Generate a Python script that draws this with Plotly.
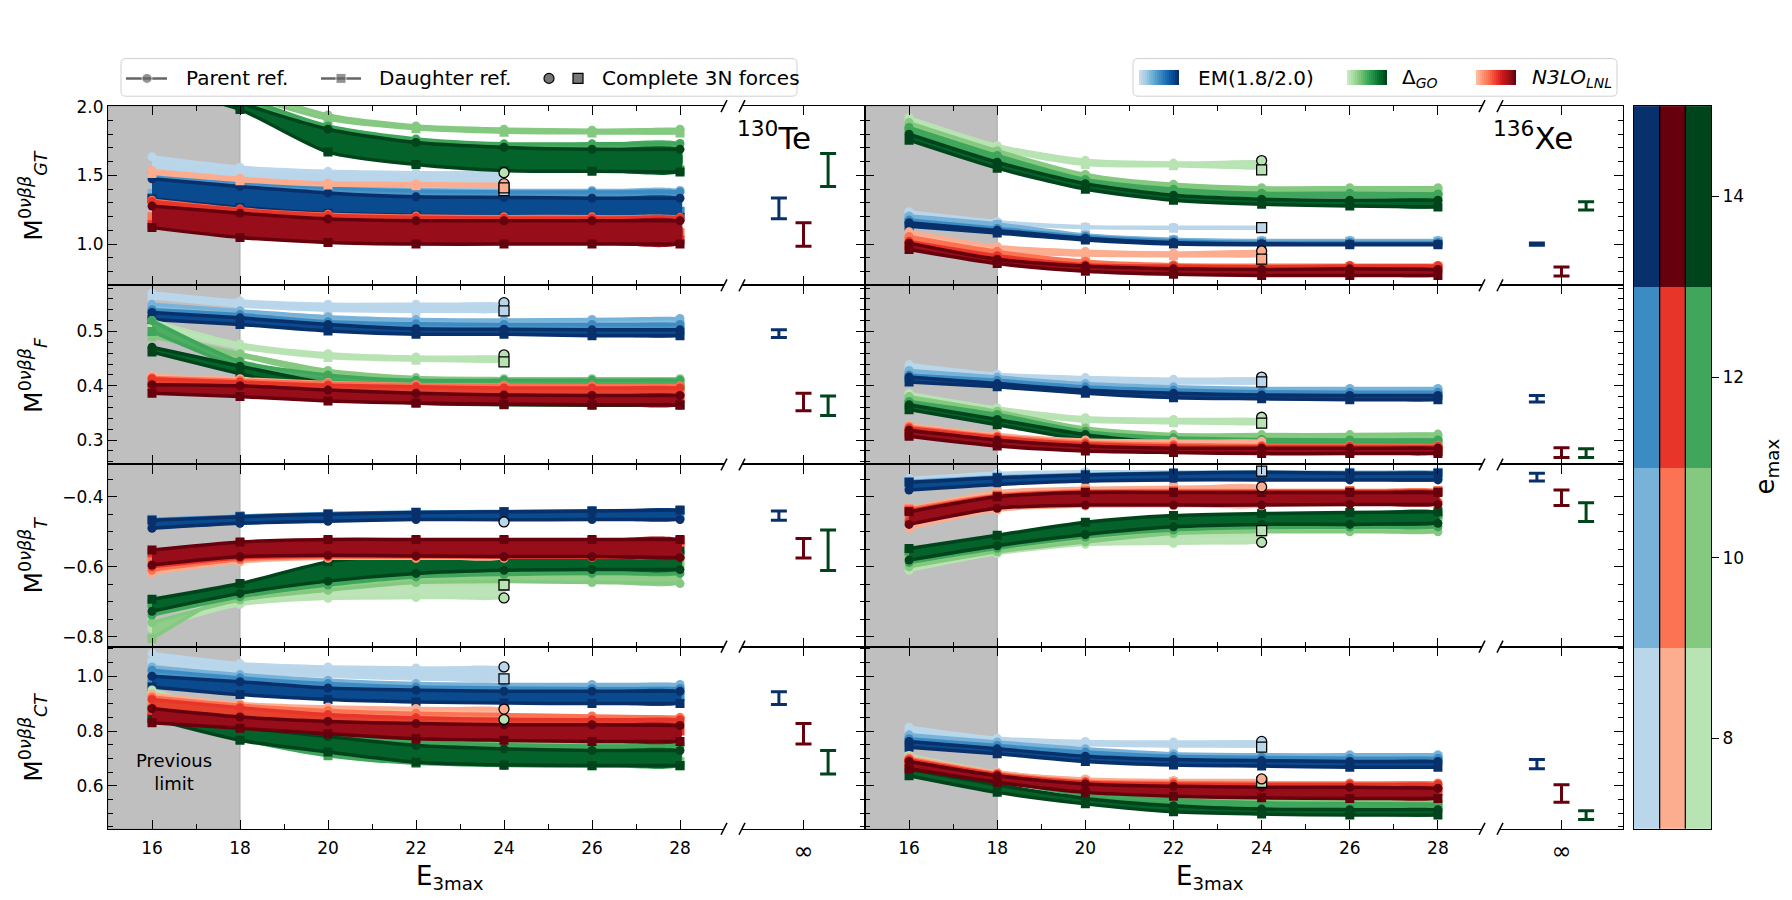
import plotly.graph_objects as go

W, H = 1792, 900

E3 = [16, 18, 20, 22, 24, 26, 28]
EMAX = [8, 10, 12, 14]

# ---- 130Te, GT ----  (each list: emax 8, 10, 12, 14; emax 8 stops at E3max = 24)
TE_GT_EM_P = [[1.637, 1.56, 1.53, 1.52, 1.517],
              [1.53, 1.465, 1.42, 1.397, 1.39, 1.39, 1.39],
              [1.52, 1.457, 1.41, 1.387, 1.38, 1.38, 1.38],
              [1.476, 1.42, 1.373, 1.344, 1.34, 1.334, 1.334]]
TE_GT_EM_D = [[1.50, 1.45, 1.42, 1.41, 1.40],
              [1.368, 1.292, 1.248, 1.228, 1.22, 1.225, 1.236],
              [1.34, 1.277, 1.236, 1.219, 1.212, 1.224, 1.24],
              [1.33, 1.267, 1.224, 1.21, 1.20, 1.195, 1.195]]
TE_GT_GO_P = [[2.6, 2.4, 2.3, 2.25, 2.2],
              [2.45, 2.15, 1.94, 1.86, 1.837, 1.83, 1.837],
              [2.35, 2.08, 1.86, 1.765, 1.73, 1.73, 1.733],
              [2.3, 2.03, 1.837, 1.74, 1.705, 1.69, 1.69]]
TE_GT_GO_D = [[2.55, 2.35, 2.25, 2.2, 2.15],
              [2.4, 2.1, 1.91, 1.84, 1.815, 1.81, 1.81],
              [2.2, 2.0, 1.68, 1.59, 1.55, 1.545, 1.54],
              [2.15, 1.98, 1.67, 1.58, 1.536, 1.53, 1.525]]
TE_GT_N3_P = [[1.536, 1.48, 1.445, 1.44, 1.435],
              [1.32, 1.255, 1.218, 1.204, 1.2, 1.2, 1.195],
              [1.31, 1.25, 1.21, 1.195, 1.19, 1.19, 1.19],
              [1.277, 1.224, 1.183, 1.17, 1.17, 1.17, 1.17]]
TE_GT_N3_D = [[1.515, 1.462, 1.43, 1.425, 1.42],
              [1.20, 1.13, 1.093, 1.082, 1.082, 1.077, 1.082],
              [1.14, 1.068, 1.032, 1.02, 1.02, 1.02, 1.03],
              [1.12, 1.048, 1.012, 1.0, 1.0, 1.0, 1.0]]
TE_GT_3N_P = [None, 1.52, 1.44]     # EM, dGO, N3LO
TE_GT_3N_D = [1.39, None, 1.41]
TE_GT_INF = [1.26, 1.54, 1.07]
TE_GT_INF_ERR = [0.075, 0.12, 0.085]

# ---- 136Xe, GT ----
XE_GT_EM_P = [[1.235, 1.163, 1.127, 1.123, 1.123],
              [1.204, 1.147, 1.067, 1.036, 1.026, 1.026, 1.026],
              [1.175, 1.115, 1.055, 1.024, 1.012, 1.012, 1.012],
              [1.156, 1.10, 1.043, 1.012, 1.002, 1.0, 1.0]]
XE_GT_EM_D = [[1.22, 1.15, 1.12, 1.115, 1.115],
              [1.19, 1.14, 1.06, 1.03, 1.02, 1.02, 1.02],
              [1.16, 1.10, 1.045, 1.015, 1.005, 1.005, 1.005],
              [1.13, 1.08, 1.03, 1.0, 0.995, 0.995, 0.995]]
XE_GT_GO_P = [[1.92, 1.717, 1.61, 1.59, 1.60],
              [1.885, 1.68, 1.507, 1.435, 1.41, 1.41, 1.41],
              [1.85, 1.645, 1.47, 1.40, 1.37, 1.37, 1.365],
              [1.80, 1.596, 1.44, 1.356, 1.327, 1.32, 1.32]]
XE_GT_GO_D = [[1.88, 1.69, 1.58, 1.57, 1.555],
              [1.85, 1.65, 1.48, 1.41, 1.39, 1.39, 1.385],
              [1.82, 1.62, 1.45, 1.38, 1.35, 1.345, 1.34],
              [1.757, 1.553, 1.40, 1.32, 1.29, 1.277, 1.27]]
XE_GT_N3_P = [[1.09, 0.983, 0.947, 0.935, 0.947],
              [1.055, 0.947, 0.875, 0.85, 0.846, 0.846, 0.846],
              [1.02, 0.916, 0.85, 0.84, 0.835, 0.84, 0.84],
              [1.007, 0.89, 0.84, 0.82, 0.815, 0.82, 0.815]]
XE_GT_N3_D = [[1.05, 0.95, 0.92, 0.915, 0.915],
              [1.03, 0.93, 0.86, 0.838, 0.835, 0.835, 0.835],
              [0.99, 0.90, 0.835, 0.825, 0.82, 0.82, 0.82],
              [0.96, 0.858, 0.803, 0.78, 0.772, 0.772, 0.772]]
XE_GT_3N_P = [None, 1.608, 0.95]
XE_GT_3N_D = [1.12, 1.54, 0.89]
XE_GT_INF = [1.0, 1.278, 0.80]
XE_GT_INF_ERR = [0.008, 0.03, 0.033]

# ---- 130Te, F ----
TE_F_EM_P = [[0.571, 0.556, 0.55, 0.55, 0.55],
             [0.55, 0.538, 0.527, 0.522, 0.521, 0.522, 0.524],
             [0.54, 0.531, 0.518, 0.514, 0.513, 0.513, 0.513],
             [0.535, 0.525, 0.513, 0.505, 0.504, 0.503, 0.503]]
TE_F_EM_D = [[0.562, 0.547, 0.539, 0.537, 0.537],
             [0.54, 0.53, 0.52, 0.515, 0.513, 0.513, 0.513],
             [0.53, 0.52, 0.51, 0.505, 0.503, 0.502, 0.502],
             [0.522, 0.513, 0.501, 0.495, 0.495, 0.492, 0.492]]
TE_F_GO_P = [[0.52, 0.477, 0.459, 0.453, 0.453],
             [0.495, 0.459, 0.428, 0.415, 0.413, 0.413, 0.413],
             [0.52, 0.445, 0.42, 0.41, 0.41, 0.41, 0.41],
             [0.471, 0.436, 0.404, 0.388, 0.384, 0.383, 0.382]]
TE_F_GO_D = [[0.505, 0.47, 0.452, 0.447, 0.445],
             [0.49, 0.455, 0.42, 0.408, 0.405, 0.405, 0.405],
             [0.50, 0.435, 0.41, 0.40, 0.398, 0.397, 0.397],
             [0.462, 0.422, 0.386, 0.368, 0.365, 0.364, 0.364]]
TE_F_N3_P = [[0.419, 0.413, 0.406, 0.402, 0.401],
             [0.415, 0.41, 0.405, 0.402, 0.401, 0.40, 0.40],
             [0.413, 0.407, 0.401, 0.398, 0.396, 0.396, 0.396],
             [0.402, 0.40, 0.392, 0.386, 0.383, 0.382, 0.382]]
TE_F_N3_D = [[0.41, 0.405, 0.40, 0.398, 0.397],
             [0.405, 0.40, 0.395, 0.392, 0.39, 0.39, 0.39],
             [0.40, 0.395, 0.385, 0.38, 0.378, 0.378, 0.378],
             [0.386, 0.38, 0.372, 0.368, 0.366, 0.365, 0.365]]
TE_F_3N_P = [0.553, 0.457, None]
TE_F_3N_D = [0.538, 0.444, None]
TE_F_INF = [0.496, 0.363, 0.37]
TE_F_INF_ERR = [0.007, 0.018, 0.016]

# ---- 136Xe, F ----
XE_F_EM_P = [[0.439, 0.421, 0.415, 0.412, 0.413],
             [0.428, 0.416, 0.404, 0.398, 0.395, 0.395, 0.395],
             [0.42, 0.41, 0.398, 0.392, 0.389, 0.388, 0.388],
             [0.416, 0.404, 0.392, 0.386, 0.383, 0.382, 0.382]]
XE_F_EM_D = [[0.43, 0.415, 0.408, 0.405, 0.405],
             [0.42, 0.41, 0.40, 0.393, 0.39, 0.39, 0.39],
             [0.415, 0.405, 0.392, 0.386, 0.383, 0.382, 0.382],
             [0.407, 0.398, 0.386, 0.378, 0.376, 0.374, 0.374]]
XE_F_GO_P = [[0.386, 0.359, 0.341, 0.338, 0.338],
             [0.38, 0.353, 0.322, 0.31, 0.31, 0.31, 0.311],
             [0.371, 0.347, 0.316, 0.304, 0.301, 0.30, 0.30],
             [0.365, 0.338, 0.31, 0.295, 0.289, 0.289, 0.289]]
XE_F_GO_D = [[0.38, 0.352, 0.335, 0.332, 0.33],
             [0.375, 0.348, 0.317, 0.305, 0.303, 0.303, 0.303],
             [0.365, 0.34, 0.31, 0.298, 0.295, 0.294, 0.294],
             [0.356, 0.328, 0.30, 0.286, 0.28, 0.28, 0.279]]
XE_F_N3_P = [[0.328, 0.31, 0.30, 0.298, 0.298],
             [0.325, 0.307, 0.296, 0.292, 0.29, 0.29, 0.29],
             [0.322, 0.305, 0.293, 0.289, 0.288, 0.288, 0.288],
             [0.318, 0.30, 0.289, 0.285, 0.285, 0.285, 0.285]]
XE_F_N3_D = [[0.32, 0.30, 0.293, 0.29, 0.29],
             [0.315, 0.297, 0.288, 0.284, 0.283, 0.283, 0.283],
             [0.312, 0.294, 0.284, 0.281, 0.28, 0.28, 0.28],
             [0.307, 0.289, 0.28, 0.277, 0.275, 0.275, 0.275]]
XE_F_3N_P = [0.416, 0.342, None]
XE_F_3N_D = [0.407, 0.331, None]
XE_F_INF = [0.376, 0.276, 0.277]
XE_F_INF_ERR = [0.006, 0.008, 0.009]

# ---- 130Te, T ----
TE_T_EM_P = [[-0.478, -0.465, -0.46, -0.457, -0.456],
             [-0.485, -0.472, -0.466, -0.462, -0.461, -0.46, -0.46],
             [-0.488, -0.475, -0.468, -0.463, -0.463, -0.462, -0.462],
             [-0.49, -0.476, -0.47, -0.465, -0.466, -0.465, -0.465]]
TE_T_EM_D = [[-0.465, -0.455, -0.448, -0.444, -0.442],
             [-0.464, -0.455, -0.448, -0.444, -0.442, -0.44, -0.44],
             [-0.466, -0.456, -0.449, -0.445, -0.443, -0.441, -0.44],
             [-0.467, -0.457, -0.45, -0.445, -0.443, -0.441, -0.438]]
TE_T_GO_P = [[-0.776, -0.708, -0.69, -0.688, -0.688],
             [-0.759, -0.695, -0.667, -0.645, -0.642, -0.645, -0.648],
             [-0.738, -0.686, -0.652, -0.629, -0.622, -0.619, -0.619],
             [-0.727, -0.676, -0.641, -0.619, -0.61, -0.608, -0.608]]
TE_T_GO_D = [[-0.76, -0.69, -0.66, -0.65, -0.648],
             [-0.805, -0.665, -0.62, -0.60, -0.59, -0.59, -0.59],
             [-0.705, -0.655, -0.60, -0.575, -0.568, -0.566, -0.566],
             [-0.693, -0.648, -0.586, -0.562, -0.552, -0.552, -0.552]]
TE_T_N3_P = [[-0.619, -0.586, -0.576, -0.576, -0.576],
             [-0.61, -0.58, -0.573, -0.573, -0.573, -0.573, -0.573],
             [-0.60, -0.575, -0.57, -0.57, -0.572, -0.572, -0.573],
             [-0.595, -0.571, -0.567, -0.569, -0.571, -0.571, -0.574]]
TE_T_N3_D = [[-0.59, -0.555, -0.545, -0.54, -0.54],
             [-0.575, -0.545, -0.535, -0.532, -0.53, -0.53, -0.53],
             [-0.56, -0.535, -0.527, -0.525, -0.525, -0.525, -0.525],
             [-0.552, -0.529, -0.522, -0.522, -0.522, -0.522, -0.522]]
TE_T_3N_P = [-0.472, -0.689, None]
TE_T_3N_D = [None, -0.652, None]
TE_T_INF = [-0.454, -0.553, -0.547]
TE_T_INF_ERR = [0.013, 0.058, 0.028]

# ---- 136Xe, T ----
XE_T_EM_P = [[-0.348, -0.333, -0.329, -0.329, -0.329],
             [-0.372, -0.358, -0.35, -0.348, -0.348, -0.348, -0.348],
             [-0.378, -0.362, -0.353, -0.35, -0.35, -0.35, -0.35],
             [-0.381, -0.365, -0.355, -0.352, -0.352, -0.352, -0.352]]
XE_T_EM_D = [[-0.355, -0.34, -0.334, -0.332, -0.331],
             [-0.356, -0.343, -0.336, -0.332, -0.33, -0.33, -0.33],
             [-0.358, -0.345, -0.337, -0.333, -0.331, -0.332, -0.332],
             [-0.359, -0.346, -0.338, -0.333, -0.33, -0.333, -0.333]]
XE_T_GO_P = [[-0.61, -0.562, -0.536, -0.533, -0.53],
             [-0.60, -0.557, -0.529, -0.505, -0.50, -0.50, -0.50],
             [-0.588, -0.547, -0.515, -0.495, -0.488, -0.487, -0.486],
             [-0.581, -0.54, -0.508, -0.486, -0.479, -0.479, -0.476]]
XE_T_GO_D = [[-0.59, -0.55, -0.52, -0.512, -0.51],
             [-0.565, -0.525, -0.49, -0.472, -0.465, -0.462, -0.46],
             [-0.555, -0.515, -0.48, -0.462, -0.455, -0.452, -0.45],
             [-0.548, -0.51, -0.473, -0.454, -0.448, -0.445, -0.443]]
XE_T_N3_P = [[-0.49, -0.438, -0.427, -0.426, -0.426],
             [-0.462, -0.425, -0.416, -0.414, -0.414, -0.414, -0.414],
             [-0.47, -0.43, -0.42, -0.418, -0.418, -0.418, -0.418],
             [-0.479, -0.433, -0.424, -0.424, -0.424, -0.422, -0.422]]
XE_T_N3_D = [[-0.433, -0.386, -0.376, -0.373, -0.371],
             [-0.435, -0.395, -0.383, -0.382, -0.382, -0.382, -0.382],
             [-0.44, -0.398, -0.386, -0.385, -0.385, -0.385, -0.385],
             [-0.443, -0.40, -0.388, -0.388, -0.388, -0.388, -0.388]]
XE_T_3N_P = [None, -0.53, -0.372]
XE_T_3N_D = [-0.327, -0.497, None]
XE_T_INF = [-0.344, -0.444, -0.403]
XE_T_INF_ERR = [0.011, 0.027, 0.022]

# ---- 130Te, CT ----
TE_CT_EM_P = [[1.083, 1.046, 1.034, 1.03, 1.03],
              [1.034, 1.006, 0.985, 0.973, 0.97, 0.97, 0.97],
              [1.022, 0.994, 0.973, 0.961, 0.957, 0.955, 0.955],
              [1.0, 0.98, 0.957, 0.949, 0.945, 0.945, 0.945]]
TE_CT_EM_D = [[1.05, 1.015, 1.0, 0.99, 0.985],
              [1.01, 0.985, 0.965, 0.955, 0.95, 0.95, 0.95],
              [0.99, 0.965, 0.945, 0.935, 0.93, 0.928, 0.928],
              [0.961, 0.933, 0.915, 0.906, 0.902, 0.90, 0.90]]
TE_CT_GO_P = [[0.95, 0.86, 0.85, 0.845, 0.842],
              [0.93, 0.835, 0.80, 0.77, 0.76, 0.755, 0.755],
              [0.895, 0.82, 0.785, 0.76, 0.75, 0.745, 0.745],
              [0.882, 0.815, 0.78, 0.747, 0.735, 0.729, 0.729]]
TE_CT_GO_D = [[0.93, 0.85, 0.84, 0.835, 0.833],
              [0.90, 0.80, 0.73, 0.70, 0.69, 0.688, 0.688],
              [0.85, 0.77, 0.71, 0.682, 0.674, 0.672, 0.672],
              [0.845, 0.766, 0.723, 0.686, 0.676, 0.674, 0.674]]
TE_CT_N3_P = [[0.935, 0.90, 0.888, 0.882, 0.88],
              [0.924, 0.894, 0.875, 0.865, 0.86, 0.855, 0.85],
              [0.915, 0.885, 0.86, 0.848, 0.843, 0.841, 0.841],
              [0.882, 0.851, 0.835, 0.827, 0.823, 0.823, 0.82]]
TE_CT_N3_D = [[0.90, 0.86, 0.85, 0.845, 0.84],
              [0.885, 0.86, 0.845, 0.84, 0.838, 0.838, 0.838],
              [0.875, 0.845, 0.82, 0.808, 0.803, 0.80, 0.80],
              [0.83, 0.81, 0.79, 0.772, 0.766, 0.762, 0.762]]
TE_CT_3N_P = [1.034, 0.842, 0.88]
TE_CT_3N_D = [0.99, None, None]
TE_CT_INF = [0.92, 0.686, 0.79]
TE_CT_INF_ERR = [0.023, 0.043, 0.037]

# ---- 136Xe, CT ----
XE_CT_EM_P = [[0.814, 0.774, 0.762, 0.76, 0.76],
              [0.786, 0.76, 0.735, 0.717, 0.713, 0.713, 0.713],
              [0.772, 0.747, 0.723, 0.708, 0.704, 0.701, 0.701],
              [0.762, 0.735, 0.708, 0.696, 0.692, 0.689, 0.689]]
XE_CT_EM_D = [[0.80, 0.76, 0.75, 0.745, 0.745],
              [0.775, 0.75, 0.725, 0.71, 0.705, 0.705, 0.705],
              [0.76, 0.737, 0.712, 0.698, 0.694, 0.692, 0.692],
              [0.741, 0.717, 0.689, 0.676, 0.672, 0.668, 0.668]]
XE_CT_GO_P = [[0.711, 0.65, 0.623, 0.615, 0.615],
              [0.70, 0.64, 0.59, 0.56, 0.548, 0.545, 0.544],
              [0.695, 0.633, 0.58, 0.55, 0.538, 0.535, 0.533],
              [0.66, 0.603, 0.554, 0.527, 0.515, 0.513, 0.513]]
XE_CT_GO_D = [[0.70, 0.64, 0.615, 0.61, 0.608],
              [0.69, 0.63, 0.575, 0.545, 0.535, 0.532, 0.53],
              [0.683, 0.62, 0.565, 0.535, 0.524, 0.52, 0.518],
              [0.637, 0.576, 0.534, 0.505, 0.497, 0.493, 0.493]]
XE_CT_N3_P = [[0.705, 0.65, 0.625, 0.619, 0.619],
              [0.70, 0.645, 0.617, 0.612, 0.61, 0.61, 0.61],
              [0.695, 0.642, 0.613, 0.607, 0.605, 0.605, 0.605],
              [0.689, 0.637, 0.607, 0.598, 0.595, 0.595, 0.591]]
XE_CT_N3_D = [[0.695, 0.64, 0.62, 0.615, 0.613],
              [0.69, 0.635, 0.605, 0.595, 0.592, 0.592, 0.592],
              [0.683, 0.63, 0.598, 0.586, 0.582, 0.58, 0.58],
              [0.662, 0.613, 0.576, 0.562, 0.556, 0.554, 0.554]]
XE_CT_3N_P = [0.762, 0.62, 0.625]
XE_CT_3N_D = [0.741, 0.612, None]
XE_CT_INF = [0.679, 0.493, 0.572]
XE_CT_INF_ERR = [0.017, 0.016, 0.032]

INTERACTIONS = ["EM", "GO", "N3"]
INF_X = [-1, 1, 0]
LINE_COLORS = {
    "EM": ["#bad6eb", "#78b2d8", "#3c8bc3", "#08306b"],
    "GO": ["#b8e3b3", "#84c97f", "#3fa65b", "#00441b"],
    "N3": ["#fcad90", "#fc7353", "#e83529", "#67000d"],
}
FILL_COLORS = {
    "EM": ["#b9d5ea", "#86bcdd", "#4a95c8", "#0a4a8f"],
    "GO": ["#bde4b8", "#8fcd89", "#4cad63", "#03632a"],
    "N3": ["#fcb59c", "#fb8163", "#e6402f", "#970e1a"],
}
PATCH_COLORS = {
    "EM": ["#c6dbef", "#9ecae1", "#6baed6", "#4292c6", "#2171b5", "#08519c", "#08306b"],
    "GO": ["#c7e9c0", "#a1d99b", "#74c476", "#41ab5d", "#238b45", "#006d2c", "#00441b"],
    "N3": ["#fcbba1", "#fc9272", "#fb6a4a", "#ef3b2c", "#cb181d", "#a50f15", "#67000d"],
}

YLABELS = ["M<sup>0<i>νββ</i></sup><sub><i>GT</i></sub>", "M<sup>0<i>νββ</i></sup><sub><i>F</i></sub>",
           "M<sup>0<i>νββ</i></sup><sub><i>T</i></sub>", "M<sup>0<i>νββ</i></sup><sub><i>CT</i></sub>"]
YRANGES = [[0.70, 2.005], [0.255, 0.585], [-0.828, -0.308], [0.443, 1.108]]
YTICK = [(1.0, 0.5, 0.1), (0.3, 0.1, 0.02), (-0.8, 0.2, 0.05), (0.6, 0.2, 0.05)]

panels = {
    (0, 0): dict(EM=(TE_GT_EM_P, TE_GT_EM_D), GO=(TE_GT_GO_P, TE_GT_GO_D), N3=(TE_GT_N3_P, TE_GT_N3_D),
                 c3=(TE_GT_3N_P, TE_GT_3N_D), inf=(TE_GT_INF, TE_GT_INF_ERR)),
    (1, 0): dict(EM=(XE_GT_EM_P, XE_GT_EM_D), GO=(XE_GT_GO_P, XE_GT_GO_D), N3=(XE_GT_N3_P, XE_GT_N3_D),
                 c3=(XE_GT_3N_P, XE_GT_3N_D), inf=(XE_GT_INF, XE_GT_INF_ERR)),
    (0, 1): dict(EM=(TE_F_EM_P, TE_F_EM_D), GO=(TE_F_GO_P, TE_F_GO_D), N3=(TE_F_N3_P, TE_F_N3_D),
                 c3=(TE_F_3N_P, TE_F_3N_D), inf=(TE_F_INF, TE_F_INF_ERR)),
    (1, 1): dict(EM=(XE_F_EM_P, XE_F_EM_D), GO=(XE_F_GO_P, XE_F_GO_D), N3=(XE_F_N3_P, XE_F_N3_D),
                 c3=(XE_F_3N_P, XE_F_3N_D), inf=(XE_F_INF, XE_F_INF_ERR)),
    (0, 2): dict(EM=(TE_T_EM_P, TE_T_EM_D), GO=(TE_T_GO_P, TE_T_GO_D), N3=(TE_T_N3_P, TE_T_N3_D),
                 c3=(TE_T_3N_P, TE_T_3N_D), inf=(TE_T_INF, TE_T_INF_ERR)),
    (1, 2): dict(EM=(XE_T_EM_P, XE_T_EM_D), GO=(XE_T_GO_P, XE_T_GO_D), N3=(XE_T_N3_P, XE_T_N3_D),
                 c3=(XE_T_3N_P, XE_T_3N_D), inf=(XE_T_INF, XE_T_INF_ERR)),
    (0, 3): dict(EM=(TE_CT_EM_P, TE_CT_EM_D), GO=(TE_CT_GO_P, TE_CT_GO_D), N3=(TE_CT_N3_P, TE_CT_N3_D),
                 c3=(TE_CT_3N_P, TE_CT_3N_D), inf=(TE_CT_INF, TE_CT_INF_ERR)),
    (1, 3): dict(EM=(XE_CT_EM_P, XE_CT_EM_D), GO=(XE_CT_GO_P, XE_CT_GO_D), N3=(XE_CT_N3_P, XE_CT_N3_D),
                 c3=(XE_CT_3N_P, XE_CT_3N_D), inf=(XE_CT_INF, XE_CT_INF_ERR)),
}

# pixel layout (page pixels; OFF compensates the page's body margin)
OFF = 8
ROW_PX = [98, 279, 460, 644, 828]
MAIN_X = [(108, 724), (865, 1482)]
INSET_X = [(742, 865), (1500, 1623)]
GAPS = [724, 742, 1482, 1500]
CBAR_X = (1634, 1711)
FONT = "DejaVu Sans"


def sfx(i):
    return "" if i == 1 else str(i)


def px_x(v):
    return (v - OFF) / W


def px_y(v):
    return 1 - (v - OFF) / H


fig = go.Figure()


def add_band(ax, p, d, lc, fc):
    xs = E3[:len(p)]
    xa, ya = "x" + sfx(ax), "y" + sfx(ax)
    fig.add_trace(go.Scatter(
        x=xs + xs[::-1], y=p + d[::-1], mode="lines", fill="toself", fillcolor=fc,
        line=dict(width=0, shape="spline", smoothing=0.7), xaxis=xa, yaxis=ya,
        hoverinfo="skip", showlegend=False))
    for ys, sym in ((p, "circle"), (d, "square")):
        fig.add_trace(go.Scatter(
            x=xs, y=ys, mode="lines+markers",
            line=dict(color=lc, width=3.5, shape="spline", smoothing=0.7),
            marker=dict(symbol=sym, size=9, color=lc), xaxis=xa, yaxis=ya, showlegend=False))


for (n, r), pan in panels.items():
    main = 1 + r * 4 + n * 2
    inset = main + 1
    for name in INTERACTIONS:
        P, D = pan[name]
        for e in range(len(EMAX)):
            add_band(main, P[e], D[e], LINE_COLORS[name][e], FILL_COLORS[name][e])
    cp, cd = pan["c3"]
    for k, name in enumerate(INTERACTIONS):
        for vals, sym in ((cp, "circle"), (cd, "square")):
            if vals[k] is not None:
                fig.add_trace(go.Scatter(
                    x=[24], y=[vals[k]], mode="markers",
                    marker=dict(symbol=sym, size=10, color=LINE_COLORS[name][0],
                                line=dict(color="black", width=1.3)),
                    xaxis="x" + sfx(main), yaxis="y" + sfx(main), showlegend=False))
    mids, errs = pan["inf"]
    for k, name in enumerate(INTERACTIONS):
        fig.add_trace(go.Scatter(
            x=[INF_X[k]], y=[mids[k]], mode="markers", marker=dict(size=1, opacity=0),
            error_y=dict(type="data", array=[errs[k]], width=8, thickness=3,
                         color=LINE_COLORS[name][3]),
            xaxis="x" + sfx(inset), yaxis="y" + sfx(inset), showlegend=False))

# e_max colour key: three discrete columns
CB_AX = 17
cb_colors = LINE_COLORS["EM"] + LINE_COLORS["N3"] + LINE_COLORS["GO"]
cb_scale = []
for i, c in enumerate(cb_colors):
    cb_scale.append([i / len(cb_colors), c])
    cb_scale.append([(i + 1) / len(cb_colors), c])
cb_z = [[j * 4 + i for j in range(3)] for i in range(len(EMAX))]
fig.add_trace(go.Heatmap(
    z=cb_z, x=[0.5, 1.5, 2.5], y=EMAX, colorscale=cb_scale, zmin=-0.5, zmax=11.5,
    showscale=False, hoverinfo="skip", xaxis="x" + sfx(CB_AX), yaxis="y" + sfx(CB_AX)))

# legend glyphs drawn on an overlay axis in page pixels
OV = 18
LEG_Y = 70
ov = dict(xaxis="x" + sfx(OV), yaxis="y" + sfx(OV), showlegend=False, hoverinfo="skip")
fig.add_trace(go.Scatter(x=[126, 147, 167], y=[LEG_Y] * 3, mode="lines+markers",
                         line=dict(color="#666666", width=2.5),
                         marker=dict(symbol="circle", size=[0, 10, 0], color="#666666"), **ov))
fig.add_trace(go.Scatter(x=[321, 341, 361], y=[LEG_Y] * 3, mode="lines+markers",
                         line=dict(color="#666666", width=2.5),
                         marker=dict(symbol="square", size=[0, 10, 0], color="#666666"), **ov))
fig.add_trace(go.Scatter(x=[549, 578], y=[LEG_Y] * 2, mode="markers",
                         marker=dict(symbol=["circle", "square"], size=10, color="#777777",
                                     line=dict(color="black", width=1.2)), **ov))
for name, x0 in (("EM", 1139), ("GO", 1347), ("N3", 1476)):
    cols = PATCH_COLORS[name]
    sc = [[i / (len(cols) - 1), c] for i, c in enumerate(cols)]
    fig.add_trace(go.Heatmap(z=[list(range(20))], x0=x0 + 1, dx=2, y0=LEG_Y - 1, dy=15,
                             colorscale=sc, showscale=False, **ov))

layout = dict(
    width=W, height=H, margin=dict(l=0, r=0, t=0, b=0),
    paper_bgcolor="white", plot_bgcolor="rgba(0,0,0,0)", showlegend=False,
    font=dict(family=FONT, size=17, color="black"),
)

axis_common = dict(showgrid=False, zeroline=False, showline=True, linecolor="black", linewidth=1.2,
                   ticks="inside", ticklen=9, tickwidth=1.2, tickcolor="black",
                   tickfont=dict(family=FONT, size=17, color="black"))

shapes = []
annotations = []


def note(text, x, y, size, **kw):
    annotations.append(dict(text=text, x=px_x(x), y=px_y(y), xref="paper", yref="paper",
                            xanchor=kw.pop("xanchor", "center"), yanchor="middle", showarrow=False,
                            font=dict(family=FONT, size=size, color="black"), **kw))


for r in range(4):
    yd = [px_y(ROW_PX[r + 1]), px_y(ROW_PX[r])]
    t0, dt, mdt = YTICK[r]
    minor_y = dict(ticks="inside", ticklen=5, tickwidth=1, tickcolor="black", dtick=mdt, tick0=t0)
    for n in range(2):
        main = 1 + r * 4 + n * 2
        inset = main + 1
        layout["xaxis" + sfx(main)] = dict(
            axis_common, domain=[px_x(MAIN_X[n][0]), px_x(MAIN_X[n][1])], anchor="y" + sfx(main),
            range=[15, 29], tick0=16, dtick=2, mirror="ticks", showticklabels=(r == 3),
            ticklabelstandoff=4,
            minor=dict(ticks="inside", ticklen=5, tickwidth=1, tickcolor="black", dtick=1, tick0=15))
        layout["yaxis" + sfx(main)] = dict(
            axis_common, domain=yd, anchor="x" + sfx(main), range=YRANGES[r], tick0=t0, dtick=dt,
            tickformat=".1f", side="left", mirror=False, showticklabels=(n == 0), minor=minor_y)
        layout["xaxis" + sfx(inset)] = dict(
            axis_common, domain=[px_x(INSET_X[n][0]), px_x(INSET_X[n][1])], anchor="y" + sfx(inset),
            range=[-2.5, 2.5], tickmode="array", tickvals=[0], ticktext=["∞"], mirror="ticks",
            showticklabels=(r == 3), tickfont=dict(family=FONT, size=24, color="black"))
        layout["yaxis" + sfx(inset)] = dict(
            axis_common, domain=yd, anchor="x" + sfx(inset), range=YRANGES[r], tick0=t0, dtick=dt,
            side="right", mirror=False, showticklabels=False, minor=minor_y)
        # previous-limit shading
        shapes.append(dict(type="rect", xref="x" + sfx(main), yref="y" + sfx(main) + " domain",
                           x0=15, x1=18, y0=0, y1=1, fillcolor="#bfbfbf",
                           line=dict(color="#a8a8a8", width=1), layer="below"))
    annotations.append(dict(text=YLABELS[r], x=px_x(33), y=(yd[0] + yd[1]) / 2, xref="paper", yref="paper",
                            xanchor="center", yanchor="middle", textangle=-90, showarrow=False,
                            font=dict(family=FONT, size=25, color="black")))

# broken-axis marks
for gx in GAPS:
    for gy in ROW_PX:
        shapes.append(dict(type="line", xref="paper", yref="paper", x0=px_x(gx - 3), x1=px_x(gx + 3),
                           y0=px_y(gy + 6), y1=px_y(gy - 6), line=dict(color="black", width=1.5)))

# colour key axes
layout["xaxis" + sfx(CB_AX)] = dict(domain=[px_x(CBAR_X[0]), px_x(CBAR_X[1])], anchor="y" + sfx(CB_AX),
                                    range=[0, 3], showgrid=False, zeroline=False, showticklabels=False,
                                    ticks="", showline=True, linecolor="black", linewidth=1.2, mirror=True)
layout["yaxis" + sfx(CB_AX)] = dict(domain=[px_y(ROW_PX[4]), px_y(ROW_PX[0])], anchor="x" + sfx(CB_AX),
                                    range=[7, 15], side="right", tickvals=EMAX, ticks="outside",
                                    ticklen=7, tickwidth=1.2, tickcolor="black", showgrid=False,
                                    zeroline=False, showline=True, linecolor="black", linewidth=1.2,
                                    mirror=True, tickfont=dict(family=FONT, size=17))
for xv in (1, 2):
    shapes.append(dict(type="line", xref="x" + sfx(CB_AX), yref="y" + sfx(CB_AX) + " domain",
                       x0=xv, x1=xv, y0=0, y1=1, line=dict(color="black", width=1.2)))

# overlay axis for legend glyphs, in page pixels
layout["xaxis" + sfx(OV)] = dict(domain=[0, 1], anchor="y" + sfx(OV), range=[OFF, W + OFF], visible=False,
                                 fixedrange=True)
layout["yaxis" + sfx(OV)] = dict(domain=[0, 1], anchor="x" + sfx(OV), range=[H + OFF, OFF], visible=False,
                                 fixedrange=True)


def rounded_box(x0, y0, x1, y1, rad=5):
    X = px_x
    Y = px_y
    return (f"M {X(x0 + rad)},{Y(y0)} L {X(x1 - rad)},{Y(y0)} Q {X(x1)},{Y(y0)} {X(x1)},{Y(y0 + rad)} "
            f"L {X(x1)},{Y(y1 - rad)} Q {X(x1)},{Y(y1)} {X(x1 - rad)},{Y(y1)} "
            f"L {X(x0 + rad)},{Y(y1)} Q {X(x0)},{Y(y1)} {X(x0)},{Y(y1 - rad)} "
            f"L {X(x0)},{Y(y0 + rad)} Q {X(x0)},{Y(y0)} {X(x0 + rad)},{Y(y0)} Z")


for box in ((121, LEG_Y - 20, 797, LEG_Y + 18), (1133, LEG_Y - 20, 1617, LEG_Y + 18)):
    shapes.append(dict(type="path", xref="paper", yref="paper", path=rounded_box(*box),
                       fillcolor="rgba(255,255,255,0.8)", line=dict(color="#d0d0d0", width=1), layer="below"))

for txt, x in (("Parent ref.", 184), ("Daughter ref.", 377), ("Complete 3N forces", 600),
               ("EM(1.8/2.0)", 1196), ("Δ<sub><i>GO</i></sub>", 1400),
               ("<i>N3LO<sub>LNL</sub></i>", 1530)):
    note(txt, x, LEG_Y, 20, xanchor="left")

note("<sup>130</sup>Te", 774, 128, 31)
note("<sup>136</sup>Xe", 1533, 128, 31)
note("Previous<br>limit", 174, 771, 18)
note("E<sub>3max</sub>", 450, 877, 26)
note("E<sub>3max</sub>", 1210, 877, 26)
note("e<sub>max</sub>", 1766, 462, 26, textangle=-90)

layout["shapes"] = shapes
layout["annotations"] = annotations
fig.update_layout(**layout)

fig.write_html("out.html")
